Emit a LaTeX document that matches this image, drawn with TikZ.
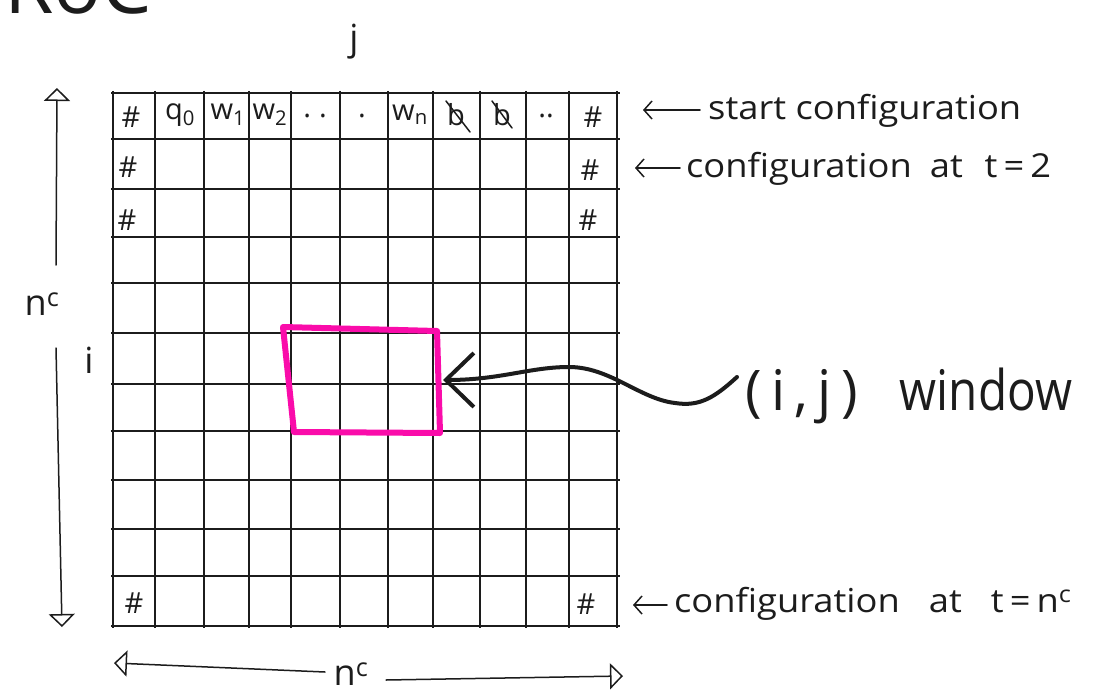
\documentclass[tikz,border=0pt]{standalone}
\usepackage{fontspec}
\setmainfont{Open Sans}
\usetikzlibrary{arrows.meta}
\definecolor{ink}{RGB}{28,28,28}
\definecolor{hotpink}{RGB}{250,12,170}
\begin{document}
\begin{tikzpicture}[x=1pt,y=-1pt,
  gridline/.style={line width=2.3pt, draw=ink},
  hand/.style={line width=1.5pt, draw=ink, line cap=round, line join=round},
  celltext/.style={font=\fontsize{29}{32}\selectfont, text=ink, inner sep=0pt},
  lbl/.style={font=\fontsize{33}{38}\selectfont, text=ink, anchor=base west, inner sep=0pt},
  sym/.style={font=\fontsize{36}{40}\selectfont, text=ink, inner sep=0pt},
  opentri/.style={-{Triangle[open, length=13pt, width=26pt, line width=1.5pt]}},
  barb/.style={-{Straight Barb[length=8pt, width=18pt, line width=1.5pt]}}
  ]
\clip (0,0) rectangle (1107,695);
\fill[white] (0,0) rectangle (1107,695);
% partially visible title
\node[anchor=base west, font=\fontsize{80}{90}\selectfont, text=ink, inner sep=0pt] (title) at (4,14) {RoC};
% grid
\foreach \x in {113,155,204,249,291,340,388,433,480,526,569,617}
  \draw[gridline] (\x,91) -- (\x,628);
\foreach \y in {93,139,189,237,283,333,384,431,480,529,576,626}
  \draw[gridline] (111,\y) -- (620,\y);
% first row
\node[celltext] (h1a) at (131,117) {\#};
\node[celltext] (q0) at (180,115) {q\textsubscript{0}};
\node[celltext] (w1) at (228,115) {w\textsubscript{1}};
\node[celltext] (w2) at (270,115) {w\textsubscript{2}};
\node[celltext] (d1) at (315,116) {.\;.};
\node[celltext] (d2) at (362,116) {.};
\node[celltext] (wn) at (410,115) {w\textsubscript{n}};
\node[celltext] (b1) at (456,115) {b};
\node[celltext] (b2) at (502,115) {b};
\node[celltext] (d3) at (546,116) {..};
\node[celltext] (h1b) at (593,117) {\#};
\draw[hand] ([shift={(-10,-14)}]b1.center) -- ([shift={(14,17)}]b1.center);
\draw[hand] ([shift={(-10,-14)}]b2.center) -- ([shift={(10,13)}]b2.center);
% other rows
\node[celltext] (h2a) at (128,167) {\#};
\node[celltext] (h2b) at (590,170) {\#};
\node[celltext] (h3a) at (127,220) {\#};
\node[celltext] (h3b) at (588,220) {\#};
\node[celltext] (h11a) at (134,603) {\#};
\node[celltext] (h11b) at (586,604) {\#};
% window
\draw[hotpink, line width=6pt, line cap=round, line join=round]
  (283,327) -- (437,331) -- (440,433) -- (294,432) -- cycle;
% axis labels
\node[sym] (jlab) at (354,42) {j};
\node[sym] (ilab) at (89,360) {i};
\node[sym] (nleft) at (42,304) {n\textsuperscript{c}};
\node[sym] (nbot) at (351,674) {n\textsuperscript{c}};
% vertical double arrow
\coordinate (vt) at (57,88);
\coordinate (v1) at (56,265);
\coordinate (v2) at (56,348);
\coordinate (vb) at (62,627);
\draw[hand, opentri] (v1) -- (vt);
\draw[hand, opentri] (v2) -- (vb);
% horizontal double arrow
\coordinate (hl) at (114,663);
\coordinate (h1) at (325,672);
\coordinate (h2) at (386,680);
\coordinate (hr) at (623,676);
\draw[hand, opentri] (h1) -- (hl);
\draw[hand, opentri] (h2) -- (hr);
% right labels
\node[lbl] (lab1) at (708,120) {\scalebox{1.1}[1]{start configuration}};
\node[lbl] (lab2) at (686,178) {\scalebox{1.1}[1]{configuration\hspace{0.5em}at\hspace{0.6em}t\,=\,2}};
\node[lbl] (lab3) at (674,612) {\scalebox{1.1}[1]{configuration\hspace{0.8em}at\hspace{0.8em}t\,=\,n\textsuperscript{c}}};
\coordinate (a1s) at (700,110); \coordinate (a1e) at (643,110);
\coordinate (a2s) at (680,168); \coordinate (a2e) at (635,168);
\coordinate (a3s) at (667,605); \coordinate (a3e) at (633,605);
\draw[hand, barb] (a1s) -- (a1e);
\draw[hand, barb] (a2s) -- (a2e);
\draw[hand, barb] (a3s) -- (a3e);
% window label and wavy arrow
\node[anchor=base west, font=\fontsize{56}{60}\selectfont, text=ink, inner sep=0pt] (win) at (745,410)
  {(\,i\,,\,j\,)\hspace{0.75em}\scalebox{0.85}[1]{window}};
\coordinate (ws) at (737,377);
\coordinate (we) at (443,380);
\draw[line width=4pt, draw=ink, line cap=round,
  -{Straight Barb[length=28pt, width=54pt, line width=4pt]}]
  (ws) .. controls (715,397) and (700,407) .. (675,403)
       .. controls (640,399) and (610,367) .. (569,367)
       .. controls (530,367) and (500,380) .. (we);
\end{tikzpicture}
\end{document}
